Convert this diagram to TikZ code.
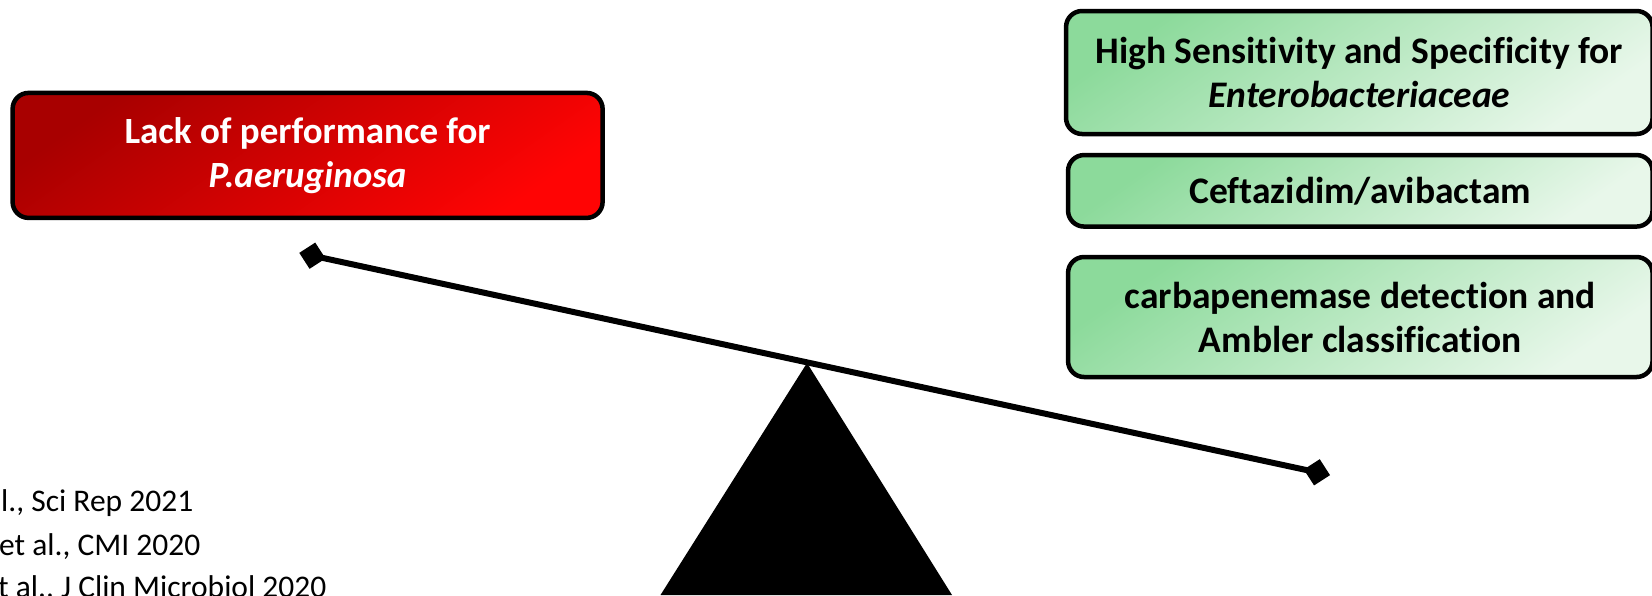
\documentclass[tikz,border=0pt]{standalone}
\usepackage{fontspec}
\setmainfont{Carlito}[Ligatures={NoCommon}]
\usetikzlibrary{shapes.geometric}
\definecolor{redA}{RGB}{168,0,0}
\definecolor{redB}{RGB}{255,4,4}
\definecolor{grnA}{RGB}{140,218,155}
\definecolor{grnB}{RGB}{232,247,234}
\tikzset{
  redbox/.style={rectangle, rounded corners=16pt, draw=black, line width=4.5pt,
    top color=redA, bottom color=redB, shading angle=35, text=white,
    font=\bfseries\fontsize{37}{44}\selectfont, align=center, inner sep=0pt},
  greenbox/.style={rectangle, rounded corners=16pt, draw=black, line width=4.5pt,
    top color=grnA, bottom color=grnB, shading angle=35, text=black,
    font=\bfseries\fontsize{37.5}{44}\selectfont, align=center, inner sep=0pt},
  pivotmark/.style={diamond, aspect=1, fill=black, draw=none, inner sep=0pt,
    minimum size=27pt, rotate=-12.2},
  beam/.style={line width=6pt, black},
  citetext/.style={anchor=base west, inner sep=0pt, text=black,
    font=\fontsize{31.5}{43}\selectfont}
}
\begin{document}
\begin{tikzpicture}[x=1pt,y=-1pt]
\useasboundingbox (0,0) rectangle (1652,595);
\clip (0,0) rectangle (1652,595);
% fulcrum
\fill[black] (807,363) -- (952,595) -- (660.5,595) -- cycle;
% beam
\node[pivotmark] (pl) at (312.4,255.7) {};
\node[pivotmark] (pr) at (1316.9,472.3) {};
\draw[beam] (pl.center) -- (pr.center);
% left box
\node[redbox, minimum width=590pt, minimum height=125pt] (lack) at (307.6,155.4)
  {Lack of performance for\\\textit{P.aeruginosa}};
% right boxes
\node[greenbox, minimum width=586.5pt, minimum height=123pt] (sens) at (1359.3,72.5)
  {High Sensitivity and Specificity for\\\textit{Enterobacteriaceae}};
\node[greenbox, minimum width=584.5pt, minimum height=71.5pt] (ceft) at (1360.3,190.8)
  {Ceftazidim/avibactam};
\node[greenbox, minimum width=584.5pt, minimum height=120pt] (carb) at (1360.3,317)
  {carbapenemase detection and\\Ambler classification};
% citations
\node[citetext] (c1) at (1,511.7) {l., Sci Rep 2021};
\node[citetext] (c2) at (-1,555) {et al., CMI 2020};
\node[citetext] (c3) at (-2,597) {t al., J Clin Microbiol 2020};
\end{tikzpicture}
\end{document}
